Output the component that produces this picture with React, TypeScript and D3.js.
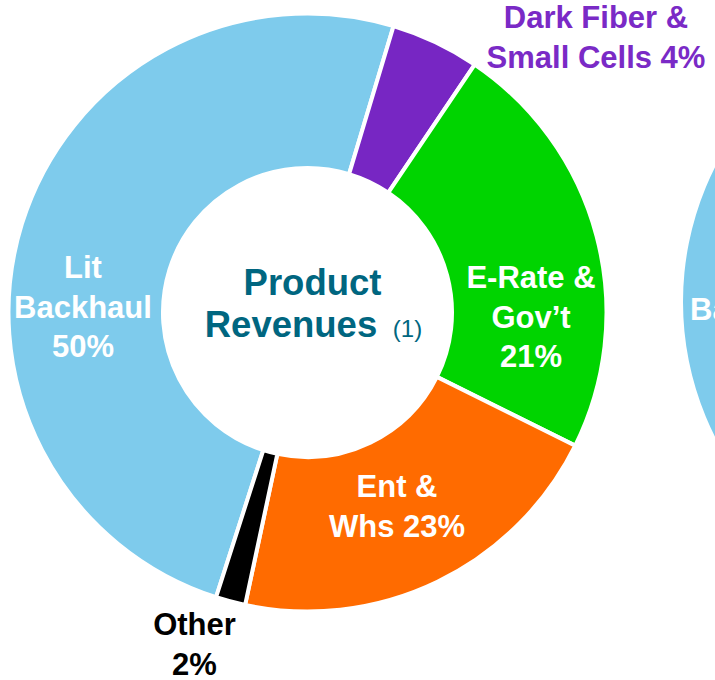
import { useMemo } from "react";
import * as d3 from "d3";

const categories = ["Lit Backhaul", "Dark Fiber & Small Cells", "E-Rate & Gov't", "Ent & Whs", "Other"];
const shares = [49.7, 4.8, 22.9, 21.0, 1.6];
const colors = ["#7ecbec", "#7726c3", "#00d400", "#ff6b00", "#000000"];
const labelLines = [
  ["Lit", "Backhaul", "50%"],
  ["Dark Fiber &", "Small Cells 4%"],
  ["E-Rate &", "Gov\u2019t", "21%"],
  ["Ent &", "Whs 23%"],
  ["Other", "2%"],
];
const labelColors = ["#ffffff", "#7a2ac6", "#ffffff", "#ffffff", "#000000"];

// neighbouring chart, mostly off the page
const nextCategories = ["Lit Backhaul"];
const nextShares = [100];
const nextLines = ["Backhaul"];

const W = 715;
const H = 680;
const CX = 307.5;
const CY = 312.5;
const R_OUT = 299;
const R_IN = 144.5;
const START = (197.8 * Math.PI) / 180;

// label anchor (centre x, first baseline) per slice
const labelPos: [number, number][] = [
  [83, 278],
  [596, 28],
  [531, 288],
  [397, 497],
  [194.5, 635],
];
const LINE = 39.5;
const FONT = "Liberation Sans, Arial, Helvetica, sans-serif";

const App = () => {
  const arcs = useMemo(
    () =>
      d3
        .pie<number>()
        .sort(null)
        .value((d) => d)
        .startAngle(START)
        .endAngle(START + 2 * Math.PI)(shares),
    []
  );
  const arc = d3.arc<d3.PieArcDatum<number>>().innerRadius(R_IN).outerRadius(R_OUT);

  const nextArcs = d3.pie<number>().sort(null).value((d) => d)(nextShares);
  const nextArc = d3.arc<d3.PieArcDatum<number>>().innerRadius(150).outerRadius(300);

  return (
    <div style={{ position: "absolute", left: 0, top: 0 }}>
      <svg width={W} height={H} style={{ display: "block" }} fontFamily={FONT}>
        <rect width={W} height={H} fill="#fff" />
        <g transform={`translate(983,302)`}>
          {nextArcs.map((a, i) => (
            <path key={nextCategories[i]} d={nextArc(a) || ""} fill={colors[0]} />
          ))}
          <text x={690 - 983} y={320 - 302} fill="#fff" fontWeight="bold" fontSize={31}>
            {nextLines[0]}
          </text>
        </g>
        <g transform={`translate(${CX},${CY})`}>
          {arcs.map((a, i) => (
            <path
              key={categories[i]}
              d={arc(a) || ""}
              fill={colors[i]}
              stroke="#fff"
              strokeWidth={4}
              strokeLinejoin="miter"
            />
          ))}
        </g>
        {labelLines.map((lines, i) => (
          <text
            key={categories[i]}
            textAnchor="middle"
            fontWeight="bold"
            fontSize={31}
            fill={labelColors[i]}
          >
            {lines.map((ln, j) => (
              <tspan key={j} x={labelPos[i][0]} y={labelPos[i][1] + j * LINE}>
                {ln}
              </tspan>
            ))}
          </text>
        ))}
        <text textAnchor="middle" fontWeight="bold" fontSize={36.5} fill="#006680">
          <tspan x={312.5} y={295}>Product</tspan>
          <tspan x={291} y={337}>Revenues</tspan>
        </text>
        <text x={407.5} y={337} textAnchor="middle" fontSize={24} fill="#006680">
          (1)
        </text>
      </svg>
    </div>
  );
};

export default App;
